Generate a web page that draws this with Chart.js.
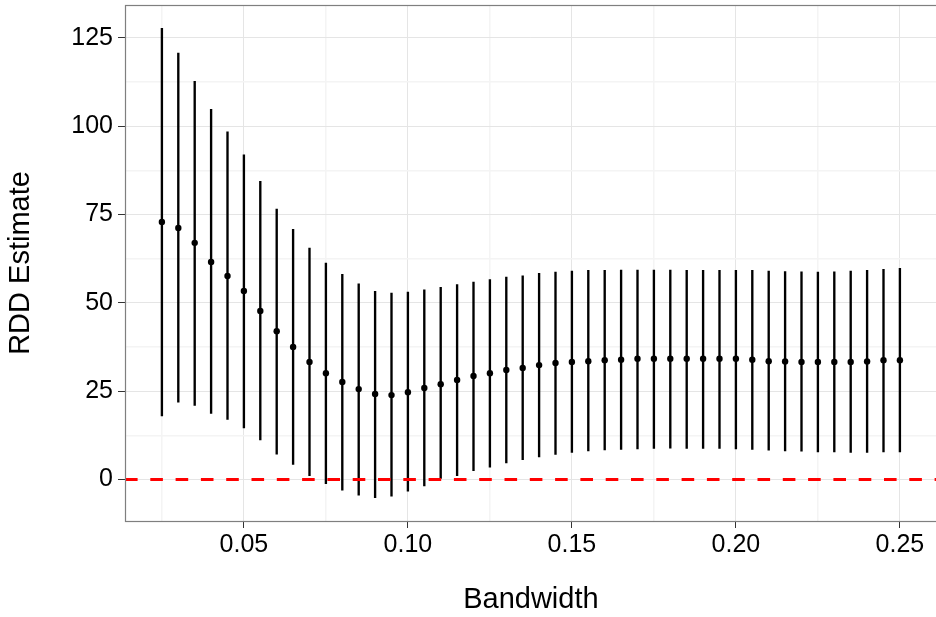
<!DOCTYPE html>
<html>
<head>
<meta charset="utf-8">
<script src="https://cdn.jsdelivr.net/npm/chart.js@4/dist/chart.umd.min.js"></script>
<style>
  html, body { margin: 0; padding: 0; background: #ffffff; overflow: hidden; }
  #wrap { width: 936px; height: 617px; overflow: hidden; position: relative; }
  canvas { display: block; }
</style>
</head>
<body>
<div id="wrap"><canvas id="c" width="940" height="617"></canvas></div>
<script>
// ---- data ----
const bandwidth = [0.025, 0.030, 0.035, 0.040, 0.045, 0.050, 0.055, 0.060, 0.065, 0.070,
                   0.075, 0.080, 0.085, 0.090, 0.095, 0.100, 0.105, 0.110, 0.115, 0.120,
                   0.125, 0.130, 0.135, 0.140, 0.145, 0.150, 0.155, 0.160, 0.165, 0.170,
                   0.175, 0.180, 0.185, 0.190, 0.195, 0.200, 0.205, 0.210, 0.215, 0.220,
                   0.225, 0.230, 0.235, 0.240, 0.245, 0.250];
const estimate = [72.9, 71.2, 67.0, 61.6, 57.6, 53.4, 47.7, 42.0, 37.5, 33.3,
                  30.1, 27.6, 25.6, 24.2, 23.9, 24.7, 25.9, 27.0, 28.2, 29.3,
                  30.1, 31.0, 31.6, 32.4, 33.0, 33.3, 33.5, 33.8, 33.9, 34.2,
                  34.2, 34.2, 34.2, 34.2, 34.2, 34.2, 33.9, 33.5, 33.4, 33.3,
                  33.3, 33.3, 33.3, 33.4, 33.8, 33.8];
const lower = [18.0, 21.9, 21.0, 18.7, 17.0, 14.6, 11.2, 7.2, 4.3, 1.1,
               -1.2, -3.0, -4.4, -5.1, -4.7, -3.3, -1.8, 0.3, 1.1, 2.5,
               3.5, 4.7, 5.6, 6.4, 7.1, 7.7, 8.1, 8.4, 8.5, 8.7,
               8.8, 8.9, 8.8, 8.8, 8.8, 8.7, 8.5, 8.3, 8.1, 8.0,
               7.8, 7.8, 7.7, 7.7, 7.8, 7.8];
const upper = [127.7, 120.7, 112.7, 104.8, 98.4, 91.9, 84.4, 76.6, 70.8, 65.5,
               61.3, 58.1, 55.4, 53.3, 52.8, 53.1, 53.7, 54.4, 55.2, 55.9,
               56.6, 57.3, 57.7, 58.4, 58.7, 59.0, 59.2, 59.2, 59.3, 59.3,
               59.3, 59.3, 59.2, 59.2, 59.2, 59.2, 59.2, 59.0, 58.9, 58.8,
               58.7, 58.8, 59.0, 59.2, 59.5, 59.8];
const refLineValue = 0;

const xMajorTicks = [0.05, 0.10, 0.15, 0.20, 0.25];
const xTickLabels = ['0.05', '0.10', '0.15', '0.20', '0.25'];
const xMinorTicks = [0.025, 0.075, 0.125, 0.175, 0.225];
const yMajorTicks = [0, 25, 50, 75, 100, 125];
const yTickLabels = ['0', '25', '50', '75', '100', '125'];
const yMinorTicks = [12.5, 37.5, 62.5, 87.5, 112.5];

const xTitle = 'Bandwidth';
const yTitle = 'RDD Estimate';

// ---- axis limits (ggplot-style 5% expansion of the data range) ----
const xLo = Math.min(...bandwidth), xHi = Math.max(...bandwidth);
const yLo = Math.min(...lower, refLineValue), yHi = Math.max(...upper);
const xMin = xLo - 0.05 * (xHi - xLo), xMax = xHi + 0.05 * (xHi - xLo);
const yMin = yLo - 0.05 * (yHi - yLo), yMax = yHi + 0.05 * (yHi - yLo);

const FONT = "'Liberation Sans', Arial, Helvetica, sans-serif";
const MAJOR_GRID = '#e5e5e5';
const MINOR_GRID = '#f4f4f4';
const TICK_COLOR = '#333333';

function isMinor(list, v) { return list.some(m => Math.abs(m - v) < 1e-9); }

const errData = bandwidth.map((x, i) => ({ x: x, y: [lower[i], upper[i]] }));
const ptData = bandwidth.map((x, i) => ({ x: x, y: estimate[i] }));

const panelPlugin = {
  id: 'panelPlugin',
  afterDatasetsDraw(chart) {
    const { ctx, chartArea: { left, right, top, bottom }, scales: { y } } = chart;
    const yy = y.getPixelForValue(refLineValue);
    ctx.save();
    ctx.beginPath();
    ctx.rect(left, top, right - left, bottom - top);
    ctx.clip();
    ctx.strokeStyle = '#ff0000';
    ctx.lineWidth = 3;
    ctx.setLineDash([12.6, 12.7]);
    ctx.beginPath();
    ctx.moveTo(left, yy);
    ctx.lineTo(right, yy);
    ctx.stroke();
    ctx.restore();
  },
  afterDraw(chart) {
    const { ctx, chartArea: { left, right, top, bottom } } = chart;
    ctx.save();
    ctx.strokeStyle = '#7f7f7f';
    ctx.lineWidth = 1.2;
    ctx.strokeRect(left + 0.5, top + 0.5, right - left, bottom - top);
    ctx.restore();
  }
};

new Chart(document.getElementById('c'), {
  type: 'scatter',
  data: {
    datasets: [
      {
        type: 'bar',
        data: errData,
        backgroundColor: '#000000',
        borderWidth: 0,
        barThickness: 1.7,
        grouped: false,
        order: 2
      },
      {
        type: 'scatter',
        data: ptData,
        pointRadius: 3.2,
        pointHoverRadius: 3.2,
        pointBackgroundColor: '#000000',
        pointBorderWidth: 0,
        showLine: false,
        order: 1
      }
    ]
  },
  options: {
    responsive: false,
    animation: false,
    devicePixelRatio: 1,
    layout: { padding: { left: 0, right: 2, top: 5, bottom: 0 } },
    plugins: { legend: { display: false }, tooltip: { enabled: false }, title: { display: false } },
    scales: {
      x: {
        type: 'linear',
        position: 'bottom',
        min: xMin,
        max: xMax,
        offset: false,
        afterBuildTicks: (s) => {
          s.ticks = [...xMinorTicks, ...xMajorTicks].sort((a, b) => a - b).map(v => ({ value: v }));
        },
        afterFit: (s) => { s.height = 96; s.paddingLeft = 0; s.paddingRight = 0; },
        ticks: {
          autoSkip: false,
          maxRotation: 0,
          minRotation: 0,
          padding: 2,
          color: '#000000',
          font: { family: FONT, size: 25 },
          callback: (v) => {
            const i = xMajorTicks.findIndex(m => Math.abs(m - v) < 1e-9);
            return i >= 0 ? xTickLabels[i] : '';
          }
        },
        grid: {
          offset: false,
          color: (c) => (c.tick && isMinor(xMinorTicks, c.tick.value)) ? MINOR_GRID : MAJOR_GRID,
          lineWidth: (c) => (c.tick && isMinor(xMinorTicks, c.tick.value)) ? 1.5 : 1,
          tickLength: 7,
          tickWidth: 1,
          tickColor: (c) => (c.tick && isMinor(xMinorTicks, c.tick.value)) ? 'rgba(0,0,0,0)' : TICK_COLOR
        },
        border: { display: false },
        title: {
          display: true,
          text: xTitle,
          color: '#000000',
          font: { family: FONT, size: 29 },
          padding: { top: 0, bottom: 0 }
        }
      },
      y: {
        type: 'linear',
        position: 'left',
        min: yMin,
        max: yMax,
        afterBuildTicks: (s) => {
          s.ticks = [...yMinorTicks, ...yMajorTicks].sort((a, b) => a - b).map(v => ({ value: v }));
        },
        afterFit: (s) => { s.width = 125; s.paddingTop = 0; s.paddingBottom = 0; },
        ticks: {
          autoSkip: false,
          padding: 5,
          color: '#000000',
          font: { family: FONT, size: 25 },
          callback: (v) => {
            const i = yMajorTicks.findIndex(m => Math.abs(m - v) < 1e-9);
            return i >= 0 ? yTickLabels[i] : '';
          }
        },
        grid: {
          color: (c) => (c.tick && isMinor(yMinorTicks, c.tick.value)) ? MINOR_GRID : MAJOR_GRID,
          lineWidth: (c) => (c.tick && isMinor(yMinorTicks, c.tick.value)) ? 1.5 : 1,
          tickLength: 7,
          tickWidth: 1,
          tickColor: (c) => (c.tick && isMinor(yMinorTicks, c.tick.value)) ? 'rgba(0,0,0,0)' : TICK_COLOR
        },
        border: { display: false },
        title: {
          display: true,
          text: yTitle,
          color: '#000000',
          font: { family: FONT, size: 29 },
          padding: { top: 4, bottom: 0 }
        }
      }
    }
  },
  plugins: [panelPlugin]
});
</script>
</body>
</html>
